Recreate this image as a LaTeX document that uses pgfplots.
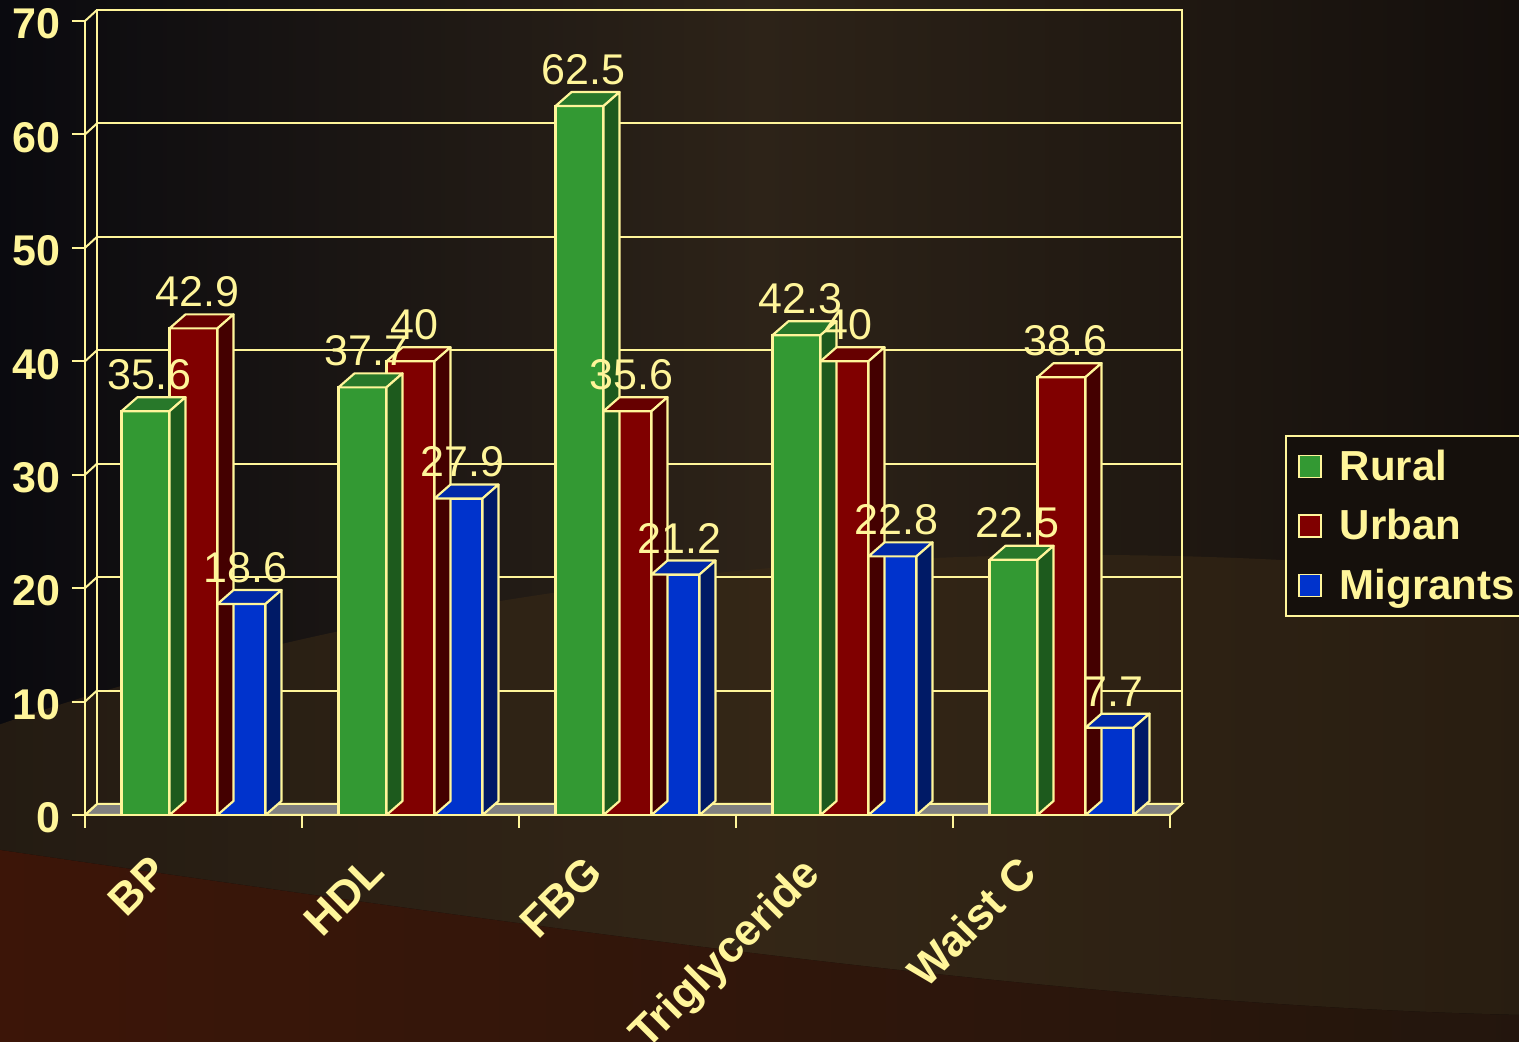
\documentclass[border=0pt]{standalone}
\usepackage{pgfplots}
\pgfplotsset{compat=1.18}
\usepackage{pgfplotstable}
\usepackage{fontspec}
\setmainfont{Liberation Sans}
\definecolor{edge}{HTML}{FFF59A}
\definecolor{gfront}{HTML}{339933}
\definecolor{gtop}{HTML}{28782A}
\definecolor{gside}{HTML}{1D5A1D}
\definecolor{rfront}{HTML}{800000}
\definecolor{rtop}{HTML}{660000}
\definecolor{rside}{HTML}{440000}
\definecolor{bfront}{HTML}{0033CC}
\definecolor{btop}{HTML}{0029A8}
\definecolor{bside}{HTML}{001A66}
\definecolor{floorc}{HTML}{808080}
\definecolor{bgL}{HTML}{0A0A0F}
\definecolor{bgM}{HTML}{2D2318}
\definecolor{bgR}{HTML}{140F0C}
\definecolor{bgArc}{HTML}{3A2A16}
\definecolor{redL}{HTML}{4A1A0A}
\definecolor{redR}{HTML}{2A1A10}
\definecolor{legbg}{HTML}{15100C}

\pgfplotstableread{
x rural urban migrants
0 35.6 42.9 18.6
1 37.7 40 27.9
2 62.5 35.6 21.2
3 42.3 40 22.8
4 22.5 38.6 7.7
}\datatable

\newcommand\declarecube[4]{%
 \pgfdeclareplotmark{#1}{%
  \pgfmathsetlengthmacro{\hh}{\myy*5.67142857pt}%
  \pgfsetlinewidth{1.1pt}%
  \pgfsetstrokecolor{edge}%
  \pgfsetroundjoin
  \pgfsetfillcolor{#2}%
  \pgfpathmoveto{\pgfpoint{#4pt-12pt}{0pt}}%
  \pgfpathlineto{\pgfpoint{#4pt+12pt}{0pt}}%
  \pgfpathlineto{\pgfpoint{#4pt+20pt}{7pt}}%
  \pgfpathlineto{\pgfpoint{#4pt-4pt}{7pt}}%
  \pgfpathclose
  \pgfusepath{fill,stroke}%
  \pgfsetfillcolor{#3}%
  \pgfpathmoveto{\pgfpoint{#4pt+12pt}{0pt}}%
  \pgfpathlineto{\pgfpoint{#4pt+20pt}{7pt}}%
  \pgfpathlineto{\pgfpoint{#4pt+20pt}{7pt-\hh}}%
  \pgfpathlineto{\pgfpoint{#4pt+12pt}{-\hh}}%
  \pgfpathclose
  \pgfusepath{fill,stroke}%
 }}
\declarecube{cubeG}{gtop}{gside}{-24}
\declarecube{cubeR}{rtop}{rside}{0}
\declarecube{cubeB}{btop}{bside}{24}

\begin{document}
\begin{tikzpicture}
\fill[left color=bgL, right color=bgR, middle color=bgM] (-42.5pt,-113.5pt) rectangle (717pt,407.5pt);
\begin{scope}
\clip (-42.5pt,-113.5pt) rectangle (717pt,407.5pt);
\fill[bgArc, opacity=0.55] (500pt,-400pt) ellipse [x radius=1000pt, y radius=530pt];
\fill[left color=redL, right color=redR, opacity=0.8] (-42.5pt,-17.5pt) .. controls (250pt,-60pt) and (500pt,-95pt) .. (717pt,-100pt) -- (717pt,-113.5pt) -- (-42.5pt,-113.5pt) -- cycle;
\end{scope}

% back wall
\begin{axis}[at={(6pt,5.5pt)}, anchor=south west, x=108.5pt, y=5.67142857pt,
  xmin=-0.5, xmax=4.5, ymin=0, ymax=70,
  axis line style={draw=edge, line width=1pt},
  ytick={0,10,...,70}, xtick=\empty, yticklabels={}, major tick length=0pt,
  ymajorgrids, grid style={draw=edge, line width=1pt}]
\end{axis}

% main axis
\begin{axis}[at={(0pt,0pt)}, anchor=south west, x=108.5pt, y=5.67142857pt,
  xmin=-0.5, xmax=4.5, ymin=0, ymax=70, clip=false,
  axis lines*=left, axis line style={draw=edge, line width=1pt},
  /pgf/number format/assume math mode=true,
  ytick={0,10,...,70}, tick align=outside, major tick length=6.5pt,
  tick style={draw=edge, line width=1pt},
  xtick={-0.5,0.5,...,4.5}, xticklabels={},
  extra x ticks={0,1,2,3,4},
  extra x tick labels={BP,HDL,FBG,Triglyceride,Waist C},
  extra x tick style={tick style={draw=none},
    xticklabel style={xshift=-22.5pt, yshift=-12.5pt, rotate=45, anchor=north east, inner sep=0pt,
      font=\bfseries\fontsize{22}{24}\selectfont, text=edge}},
  yticklabel style={font=\bfseries\fontsize{21.5}{24}\selectfont, text=edge, inner sep=0pt, xshift=-5.5pt, yshift=-1.5pt},
  legend style={at={(1.106,0.4786)}, anchor=north west, draw=edge, line width=1pt, fill=legbg,
    text=edge, font=\bfseries\fontsize{21}{24}\selectfont, row sep=9pt, inner xsep=6pt, inner ysep=5pt,
    cells={anchor=west}},
  nodes near coords style={font=\fontsize{21.5}{24}\selectfont, text=edge, anchor=south, inner sep=0pt, yshift=10.5pt}
]
% floor
\fill[floorc, draw=edge, line width=1pt] (axis cs:-0.5,0) -- (axis cs:4.5,0) -- ++(6pt,5.5pt) -- ([xshift=6pt,yshift=5.5pt]axis cs:-0.5,0) -- cycle;
\pgfplotsinvokeforeach{0,10,...,70}{\draw[edge, line width=1pt] (axis cs:-0.5,#1) -- ++(6pt,5.5pt);}

\addplot[ybar, bar width=24pt, bar shift=-24pt, fill=gfront, draw=edge, line width=1.1pt, forget plot] table[x=x,y=rural]{\datatable};
\addplot[only marks, mark=cubeG, visualization depends on={rawy \as \myy}, forget plot] table[x=x,y=rural]{\datatable};
\addplot[ybar, bar width=24pt, bar shift=0pt, fill=rfront, draw=edge, line width=1.1pt, forget plot] table[x=x,y=urban]{\datatable};
\addplot[only marks, mark=cubeR, visualization depends on={rawy \as \myy}, forget plot] table[x=x,y=urban]{\datatable};
\addplot[ybar, bar width=24pt, bar shift=24pt, fill=bfront, draw=edge, line width=1.1pt, forget plot] table[x=x,y=migrants]{\datatable};
\addplot[only marks, mark=cubeB, visualization depends on={rawy \as \myy}, forget plot] table[x=x,y=migrants]{\datatable};

% value labels
\addplot[only marks, mark=none, nodes near coords, point meta=y, nodes near coords style={xshift=-22pt}, forget plot] table[x=x,y=rural]{\datatable};
\addplot[only marks, mark=none, nodes near coords, point meta=y, nodes near coords style={xshift=2pt}, forget plot] table[x=x,y=urban]{\datatable};
\addplot[only marks, mark=none, nodes near coords, point meta=y, nodes near coords style={xshift=26pt}, forget plot] table[x=x,y=migrants]{\datatable};

\addlegendimage{legend image code/.code={\draw[fill=gfront, draw=edge, line width=0.8pt] (0pt,-5.5pt) rectangle (11pt,5.5pt); \path (18pt,0pt);}}
\addlegendentry{Rural}
\addlegendimage{legend image code/.code={\draw[fill=rfront, draw=edge, line width=0.8pt] (0pt,-5.5pt) rectangle (11pt,5.5pt); \path (18pt,0pt);}}
\addlegendentry{Urban}
\addlegendimage{legend image code/.code={\draw[fill=bfront, draw=edge, line width=0.8pt] (0pt,-5.5pt) rectangle (11pt,5.5pt); \path (18pt,0pt);}}
\addlegendentry{Migrants}
\end{axis}
\pgfresetboundingbox
\useasboundingbox (-42.5pt,-113.5pt) rectangle (717pt,407.5pt);
\end{tikzpicture}
\end{document}
